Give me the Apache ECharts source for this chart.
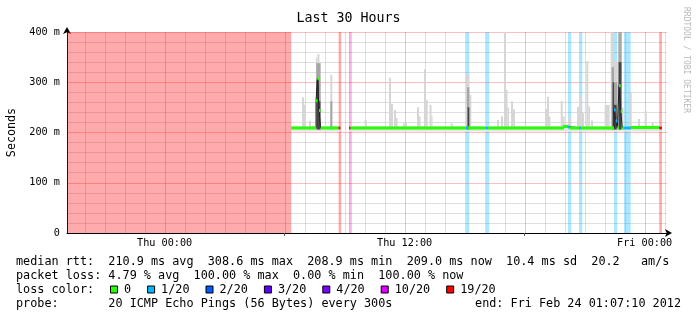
<!DOCTYPE html>
<html><head><meta charset="utf-8">
<script src="https://cdn.jsdelivr.net/npm/echarts@6/dist/echarts.min.js"></script>
<style>html,body{margin:0;padding:0;background:#fff}#c{width:697px;height:321px}</style>
</head><body><div id="c"></div>
<script>
// ---- time range (hours relative to Thu 00:00) ----
const X_START = -4.881, X_END = 25.119;
const xLabelHours = [0, 12, 24];
const xLabels = ['Thu 00:00', 'Thu 12:00', 'Fri 00:00'];
const xMajorTickHours = [6, 18];
const yTicks = [0, 100, 200, 300, 400];
const yLabels = ['0', '100 m', '200 m', '300 m', '400 m'];

// ---- loss colour levels ----
const lossLevels = ['0', '1/20', '2/20', '3/20', '4/20', '10/20', '19/20'];
const lossColors = ['#26ff00', '#00b8ff', '#0059ff', '#5e00ff', '#7e00ff', '#dd00ff', '#ff0000'];

// loss background bars: [start h, end h, loss level index]
const lossBars = [
  [X_START, 6.333, 6],
  [8.70, 8.83, 6],
  [9.22, 9.29, 6],
  [9.29, 9.355, 5],
  [15.07, 15.235, 1],
  [16.07, 16.235, 1],
  [20.17, 20.335, 1],
  [20.72, 20.885, 1],
  [22.47, 22.635, 1],
  [22.97, 23.305, 1],
  [24.73, 24.865, 6]
];

// median rtt (ms): [start h, end h, median, loss level index]
const medianSegs = [
  [6.333, 7.57, 209, 0],
  [7.57, 7.64, 263, 0],
  [7.64, 7.72, 307, 0],
  [7.72, 7.80, 244, 0],
  [7.80, 8.70, 209, 0],
  [8.70, 8.783, 209, 6],
  [9.22, 9.30, 209, 6],
  [9.30, 15.07, 209, 0],
  [15.07, 15.16, 209, 1],
  [15.16, 16.07, 209, 0],
  [16.07, 16.16, 209, 1],
  [16.16, 19.92, 209, 0],
  [19.92, 20.17, 212, 0],
  [20.17, 20.26, 211, 1],
  [20.26, 20.72, 209, 0],
  [20.72, 20.81, 209, 1],
  [20.81, 22.47, 209, 0],
  [22.47, 22.555, 245, 1],
  [22.555, 22.635, 223, 1],
  [22.635, 22.72, 209, 0],
  [22.72, 22.805, 293, 0],
  [22.805, 22.885, 242, 0],
  [22.885, 22.97, 209, 0],
  [22.97, 23.305, 209, 1],
  [23.305, 24.73, 210, 0],
  [24.73, 24.865, 209, 6]
];

// smoke (ping spread, ms): [start h, end h, low, high]
const smokeBase = [
  [6.333, 8.783, 202, 213],
  [9.22, 24.865, 202, 213]
];
const smokeLight = [
  [6.87, 6.97, 206, 270], [6.97, 7.05, 206, 255], [7.22, 7.32, 206, 223],
  [7.57, 7.64, 206, 350], [7.64, 7.74, 206, 356], [7.74, 7.80, 206, 300],
  [8.285, 8.385, 206, 315], [10.005, 10.105, 206, 225],
  [11.22, 11.32, 206, 309], [11.32, 11.42, 206, 257], [11.47, 11.57, 206, 245], [11.57, 11.645, 206, 229],
  [11.92, 12.12, 206, 218], [12.62, 12.72, 206, 250], [12.72, 12.795, 206, 232],
  [12.97, 13.07, 206, 326], [13.07, 13.155, 206, 265], [13.245, 13.345, 206, 255], [13.345, 13.395, 206, 234],
  [14.3, 14.4, 206, 218], [15.07, 15.235, 206, 315], [15.235, 15.335, 206, 275],
  [16.62, 16.72, 206, 225], [16.82, 16.92, 206, 232], [16.97, 17.07, 206, 400], [17.07, 17.145, 206, 285],
  [17.145, 17.22, 206, 250], [17.32, 17.42, 206, 262], [17.42, 17.52, 206, 246],
  [19.02, 19.12, 206, 247], [19.12, 19.22, 206, 271], [19.22, 19.295, 206, 232],
  [19.805, 19.905, 206, 263], [19.905, 19.995, 206, 232], [20.17, 20.32, 206, 229],
  [20.62, 20.72, 206, 251], [20.72, 20.82, 206, 272], [20.82, 20.97, 206, 238],
  [21.085, 21.185, 206, 342], [21.185, 21.27, 206, 252], [21.32, 21.42, 206, 224],
  [22.0, 22.25, 206, 255], [22.305, 22.47, 206, 398], [22.47, 22.635, 206, 342], [22.635, 22.685, 206, 342],
  [22.855, 22.945, 206, 250], [23.235, 23.355, 206, 279], [23.67, 23.77, 206, 227],
  [24.005, 24.105, 206, 243], [24.35, 24.45, 206, 220]
];
const smokeMid = [
  [7.58, 7.80, 206, 338], [8.285, 8.385, 206, 262], [15.12, 15.235, 206, 290],
  [22.35, 22.47, 206, 330], [22.47, 22.635, 206, 300], [22.685, 22.855, 206, 400]
];
const smokeDark = [
  [7.60, 7.72, 206, 305], [7.72, 7.79, 206, 262], [15.15, 15.235, 206, 250],
  [22.40, 22.47, 206, 300], [22.47, 22.60, 206, 255], [22.70, 22.84, 206, 340]
];

// ---- legend texts ----
const statLines = [
  'median rtt:  210.9 ms avg  308.6 ms max  208.9 ms min  209.0 ms now  10.4 ms sd  20.2   am/s',
  'packet loss: 4.79 % avg  100.00 % max  0.00 % min  100.00 % now',
  'loss color:',
  'probe:       20 ICMP Echo Pings (56 Bytes) every 300s'
];
const endText = 'end: Fri Feb 24 01:07:10 2012';
const titleText = 'Last 30 Hours';
const watermark = 'RRDTOOL / TOBI OETIKER';

// ---- helpers ----
const MONO = '"DejaVu Sans Mono", monospace';
function rgba(hex, a) {
  const n = parseInt(hex.slice(1), 16);
  return `rgba(${(n >> 16) & 255},${(n >> 8) & 255},${n & 255},${a})`;
}
function rectRender(colorFn, fullHeight) {
  return function (params, api) {
    const cs = params.coordSys;
    const s = api.value(0), e = api.value(1);
    let x0 = api.coord([s, 0])[0], x1 = api.coord([e, 0])[0];
    let yTop, yBot;
    if (fullHeight) { yTop = cs.y; yBot = cs.y + cs.height; }
    else { yBot = api.coord([s, api.value(2)])[1]; yTop = api.coord([s, api.value(3)])[1]; }
    x0 = Math.max(x0, cs.x); x1 = Math.min(x1, cs.x + cs.width);
    return { type: 'rect', shape: { x: x0, y: yTop, width: x1 - x0, height: yBot - yTop },
      style: { fill: colorFn(api) } };
  };
}
function smokeSeries(data, color, z) {
  return { type: 'custom', z, silent: true, data, encode: { x: [0, 1], y: [2, 3] },
    renderItem: rectRender(() => color, false) };
}

// vertical grid hours (every hour within range)
const gridHours = [];
for (let h = Math.ceil(X_START); h <= Math.floor(X_END); h++) gridHours.push(h);

// median line data (dark line) with gaps
const medianLine = [];
medianSegs.forEach((s, i) => {
  if (i > 0 && Math.abs(medianSegs[i - 1][1] - s[0]) > 1e-6) medianLine.push([medianSegs[i - 1][1], null]);
  medianLine.push([s[0], s[2]], [s[1], s[2]]);
});
const SW = 3; // half width of colour band (ms)
const bandData = medianSegs.map(s => [s[0], s[1], s[2] - SW, s[2] + SW, s[3]]);

// ---- legend graphics ----
const LEG_FONT = '11.8px ' + MONO;
const CH = 7.1;
const lineY = [262, 276, 289.5, 303.5];
const graphics = [];
statLines.forEach((t, i) => graphics.push({ type: 'text', x: 16, y: lineY[i], silent: true,
  style: { text: t, font: LEG_FONT, fill: '#000', textVerticalAlign: 'middle', verticalAlign: 'middle' } }));
graphics.push({ type: 'text', x: 681, y: lineY[3], silent: true,
  style: { text: endText, font: LEG_FONT, fill: '#000', textAlign: 'right', align: 'right', textVerticalAlign: 'middle', verticalAlign: 'middle' } });
let lx = 110;
lossLevels.forEach((lab, i) => {
  graphics.push({ type: 'rect', silent: true, shape: { x: lx + 0.5, y: lineY[2] - 3.5, width: 7, height: 7 },
    style: { fill: lossColors[i], stroke: '#000', lineWidth: 1 } });
  graphics.push({ type: 'text', x: lx + 14, y: lineY[2], silent: true,
    style: { text: lab, font: LEG_FONT, fill: '#000', textVerticalAlign: 'middle', verticalAlign: 'middle' } });
  lx += 14 + lab.length * CH + 16;
});
graphics.push({ type: 'text', x: 686, y: 7, rotation: -Math.PI / 2, silent: true,
  style: { text: watermark, font: '8px ' + MONO, fill: '#b8b8b8', textVerticalAlign: 'middle', verticalAlign: 'middle' } });

const chart = echarts.init(document.getElementById('c'), null, { renderer: 'canvas' });
chart.setOption({
  animation: false,
  backgroundColor: '#fff',
  title: { text: titleText, left: 'center', top: 7,
    textStyle: { fontFamily: MONO, fontSize: 13.3, fontWeight: 'normal', color: '#000' } },
  grid: { left: 67, top: 32, width: 600, height: 201, containLabel: false, outerBoundsMode: 'none' },
  xAxis: {
    type: 'value', min: X_START, max: X_END,
    axisLine: { show: true, onZero: false, lineStyle: { color: '#000', width: 1 }, symbol: ['none', 'arrow'], symbolSize: [6, 7], symbolOffset: [0, 5] },
    axisTick: { show: true, customValues: xMajorTickHours, length: 3, lineStyle: { color: '#555' } },
    axisLabel: { customValues: xLabelHours, formatter: v => xLabels[xLabelHours.indexOf(v)],
      fontFamily: MONO, fontSize: 10.2, color: '#000', margin: 5 },
    splitLine: { show: false }
  },
  yAxis: {
    type: 'value', min: 0, max: 400, interval: 100,
    name: 'Seconds', nameLocation: 'middle', nameGap: 45, nameRotate: 90,
    nameTextStyle: { fontFamily: MONO, fontSize: 11.7, color: '#000' },
    axisLine: { show: true, onZero: false, lineStyle: { color: '#000', width: 1 }, symbol: ['none', 'arrow'], symbolSize: [6, 7], symbolOffset: [0, 5] },
    axisTick: { show: false },
    axisLabel: { formatter: v => yLabels[yTicks.indexOf(v)], fontFamily: MONO, fontSize: 10.2, color: '#000', margin: 7 },
    splitLine: { show: true, lineStyle: { color: 'rgba(255,0,0,0.25)', width: 1 } },
    minorTick: { show: false, splitNumber: 5 },
    minorSplitLine: { show: true, lineStyle: { color: 'rgba(128,128,128,0.25)', width: 1 } }
  },
  graphic: graphics,
  series: [
    { type: 'custom', z: 1, silent: true, data: gridHours.map(h => [h]), encode: { x: 0 },
      renderItem(params, api) {
        const cs = params.coordSys; const h = api.value(0);
        const x = Math.round(api.coord([h, 0])[0]) + 0.5;
        return { type: 'line', shape: { x1: x, y1: cs.y, x2: x, y2: cs.y + cs.height },
          style: { stroke: h % 6 === 0 ? 'rgba(255,0,0,0.25)' : 'rgba(128,128,128,0.25)', lineWidth: 1 } };
      } },
    { type: 'custom', z: 2, silent: true, data: lossBars, encode: { x: [0, 1] },
      renderItem: rectRender(api => rgba(lossColors[api.value(2)], 0.33), true) },
    smokeSeries(smokeBase, '#e4e4e4', 3),
    smokeSeries(smokeLight, '#d6d6d6', 4),
    smokeSeries(smokeMid, '#a6a6a6', 5),
    smokeSeries(smokeDark, '#454545', 6),
    { type: 'line', z: 7, silent: true, data: medianLine, showSymbol: false, connectNulls: false,
      lineStyle: { color: '#202020', width: 1 } },
    { type: 'custom', z: 8, silent: true, data: bandData, encode: { x: [0, 1], y: [2, 3] },
      renderItem: rectRender(api => lossColors[api.value(4)], false) }
  ]
});
</script></body></html>
